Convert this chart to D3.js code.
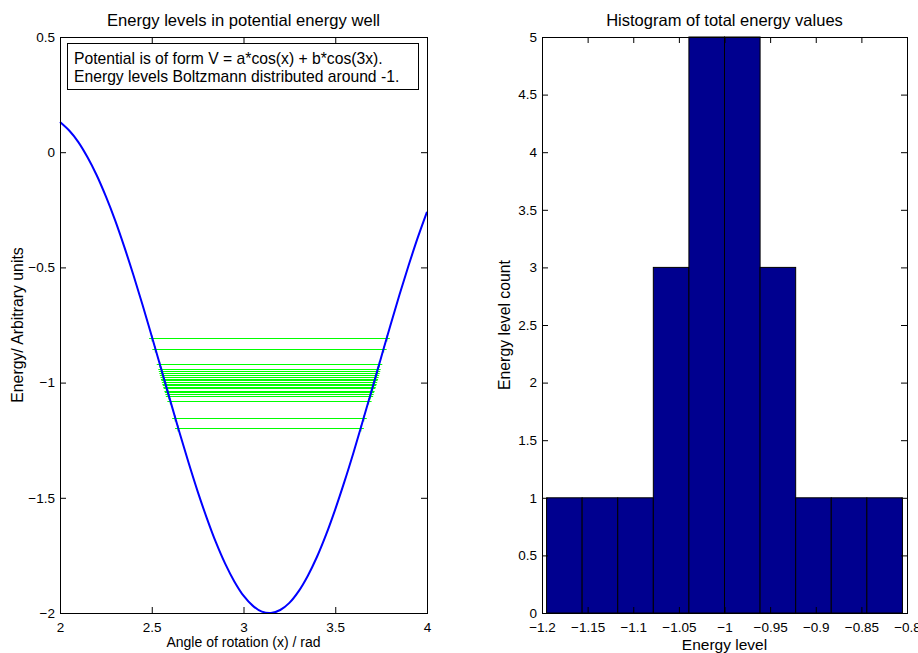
<!DOCTYPE html>
<html>
<head>
<meta charset="utf-8">
<script src="https://cdn.jsdelivr.net/npm/d3@7"></script>
<style>
  body { margin: 0; background: #fff; }
  text { font-family: "Liberation Sans", Arial, sans-serif; fill: #000; }
</style>
</head>
<body>
<div id="chart"></div>
<script>
// curve V(x)
const angles = [2.00, 2.05, 2.10, 2.15, 2.20, 2.25, 2.30, 2.35, 2.40, 2.45, 2.50, 2.55, 2.60, 2.65, 2.70,
  2.75, 2.80, 2.85, 2.90, 2.95, 3.00, 3.05, 3.10, 3.15, 3.20, 3.25, 3.30, 3.35, 3.40, 3.45, 3.50,
  3.55, 3.60, 3.65, 3.70, 3.75, 3.80, 3.85, 3.90, 3.95, 4.00];
const potential = [0.131, 0.094, 0.044, -0.022, -0.100, -0.192, -0.295, -0.410, -0.533, -0.663, -0.799,
  -0.937, -1.076, -1.213, -1.346, -1.472, -1.588, -1.694, -1.786, -1.863, -1.925, -1.968, -1.994,
  -2.000, -1.987, -1.956, -1.906, -1.839, -1.757, -1.660, -1.550, -1.430, -1.302, -1.167, -1.030,
  -0.891, -0.753, -0.619, -0.491, -0.370, -0.259];

// energy levels (green lines), also the histogram input
const energyLevels = [-0.805, -0.853, -0.919, -0.943, -0.950, -0.958, -0.966, -0.975, -0.983, -0.990,
  -0.996, -1.004, -1.011, -1.018, -1.024, -1.035, -1.042, -1.050, -1.057, -1.080, -1.152, -1.195];

const leftXTicks = [2, 2.5, 3, 3.5, 4];
const leftYTicks = [-2, -1.5, -1, -0.5, 0, 0.5];
const histXTicks = [-1.2, -1.15, -1.1, -1.05, -1, -0.95, -0.9, -0.85, -0.8];
const histYTicks = [0, 0.5, 1, 1.5, 2, 2.5, 3, 3.5, 4, 4.5, 5];
const noteLines = ["Potential is of form V = a*cos(x) + b*cos(3x).",
  "Energy levels Boltzmann distributed around -1."];

const W = 918, H = 653;
const svg = d3.select("#chart").append("svg").attr("width", W).attr("height", H);

const left = { x0: 60, x1: 427, y0: 37, y1: 613 };
const right = { x0: 542, x1: 907, y0: 37, y1: 613 };

function frame(p, xScale, yScale, xTicks, yTicks) {
  const g = svg.append("g");
  const ax = (axis, tr, showLabels) => {
    const a = g.append("g").attr("transform", tr).call(axis);
    a.select(".domain").remove();
    a.selectAll("line").attr("stroke", "#000");
    a.selectAll("text").style("font-size", "13.5px").attr("fill", "#000");
    if (!showLabels) a.selectAll("text").remove();
    return a;
  };
  ax(d3.axisBottom(xScale).tickValues(xTicks).tickSizeInner(-6).tickSizeOuter(0).tickPadding(9)
    .tickFormat(d3.format("")), `translate(0,${p.y1})`, true);
  ax(d3.axisTop(xScale).tickValues(xTicks).tickSizeInner(-6).tickSizeOuter(0),
    `translate(0,${p.y0})`, false);
  ax(d3.axisLeft(yScale).tickValues(yTicks).tickSizeInner(-6).tickSizeOuter(0).tickPadding(5)
    .tickFormat(d3.format("")), `translate(${p.x0},0)`, true);
  ax(d3.axisRight(yScale).tickValues(yTicks).tickSizeInner(-6).tickSizeOuter(0),
    `translate(${p.x1},0)`, false);
  g.append("rect").attr("x", p.x0 + 0.5).attr("y", p.y0 + 0.5)
    .attr("width", p.x1 - p.x0).attr("height", p.y1 - p.y0)
    .attr("fill", "none").attr("stroke", "#000");
  return g;
}

// ---------- left panel: potential well ----------
const x = d3.scaleLinear().domain([2, 4]).range([left.x0, left.x1]);
const y = d3.scaleLinear().domain([-2, 0.5]).range([left.y1, left.y0]);

const pts = angles.map((a, i) => ({ a, v: potential[i] }));
const minIdx = d3.minIndex(potential);

// where a level meets the curve on one branch
function crossing(e, branch) {
  for (let i = 0; i < branch.length - 1; i++) {
    const p = branch[i], q = branch[i + 1];
    if ((p.v - e) * (q.v - e) <= 0) {
      const t = (e - p.v) / (q.v - p.v);
      return p.a + t * (q.a - p.a);
    }
  }
  return null;
}
const leftBranch = pts.slice(0, minIdx + 1);
const rightBranch = pts.slice(minIdx);

const levelsG = svg.append("g");
energyLevels.forEach(e => {
  const xa = x(crossing(e, leftBranch)), xb = x(crossing(e, rightBranch));
  const yy = Math.round(y(e)) + 0.5;
  levelsG.append("line").attr("x1", xa).attr("x2", xb).attr("y1", yy).attr("y2", yy)
    .attr("stroke", "#00ff00").attr("stroke-width", 1.2);
  [xa, xb].forEach(cx => {
    levelsG.append("path").attr("d", `M${cx - 3},${yy}H${cx + 3}M${cx},${yy - 3}V${yy + 3}`)
      .attr("stroke", "#00ff00").attr("stroke-width", 1);
  });
});

svg.append("path").datum(pts)
  .attr("d", d3.line().x(d => x(d.a)).y(d => y(d.v)).curve(d3.curveCatmullRom))
  .attr("fill", "none").attr("stroke", "#0000ff").attr("stroke-width", 2);

frame(left, x, y, leftXTicks, leftYTicks);

// note box
const note = svg.append("g");
note.append("rect").attr("x", 67.5).attr("y", 43.5).attr("width", 351).attr("height", 46)
  .attr("fill", "#fff").attr("stroke", "#000");
noteLines.forEach((t, i) => {
  note.append("text").attr("x", 74).attr("y", 64 + i * 17.5).style("font-size", "15.7px").text(t);
});

svg.append("text").attr("x", (left.x0 + left.x1) / 2).attr("y", 26).attr("text-anchor", "middle")
  .style("font-size", "16.6px").text("Energy levels in potential energy well");
svg.append("text").attr("x", (left.x0 + left.x1) / 2).attr("y", 647).attr("text-anchor", "middle")
  .style("font-size", "14px").text("Angle of rotation (x) / rad");
svg.append("text").attr("transform", `translate(23,${(left.y0 + left.y1) / 2}) rotate(-90)`)
  .attr("text-anchor", "middle").style("font-size", "15.8px").text("Energy/ Arbitrary units");

// ---------- right panel: histogram ----------
const hx = d3.scaleLinear().domain([-1.2, -0.8]).range([right.x0, right.x1]);
const hy = d3.scaleLinear().domain([0, 5]).range([right.y1, right.y0]);

const lo = d3.min(energyLevels), hi = d3.max(energyLevels);
const binW = (hi - lo) / 10;
const bins = d3.bin().domain([lo, hi])
  .thresholds(d3.range(1, 10).map(k => lo + k * binW))(energyLevels);

svg.append("g").selectAll("rect").data(bins).join("rect")
  .attr("x", d => hx(d.x0)).attr("width", d => hx(d.x1) - hx(d.x0))
  .attr("y", d => hy(d.length)).attr("height", d => hy(0) - hy(d.length))
  .attr("fill", "#00008f").attr("stroke", "#000").attr("stroke-width", 1);

frame(right, hx, hy, histXTicks, histYTicks);

svg.append("text").attr("x", (right.x0 + right.x1) / 2).attr("y", 26).attr("text-anchor", "middle")
  .style("font-size", "16.5px").text("Histogram of total energy values");
svg.append("text").attr("x", (right.x0 + right.x1) / 2).attr("y", 650).attr("text-anchor", "middle")
  .style("font-size", "15.5px").text("Energy level");
svg.append("text").attr("transform", `translate(510,${(right.y0 + right.y1) / 2}) rotate(-90)`)
  .attr("text-anchor", "middle").style("font-size", "15.8px").text("Energy level count");
</script>
</body>
</html>
